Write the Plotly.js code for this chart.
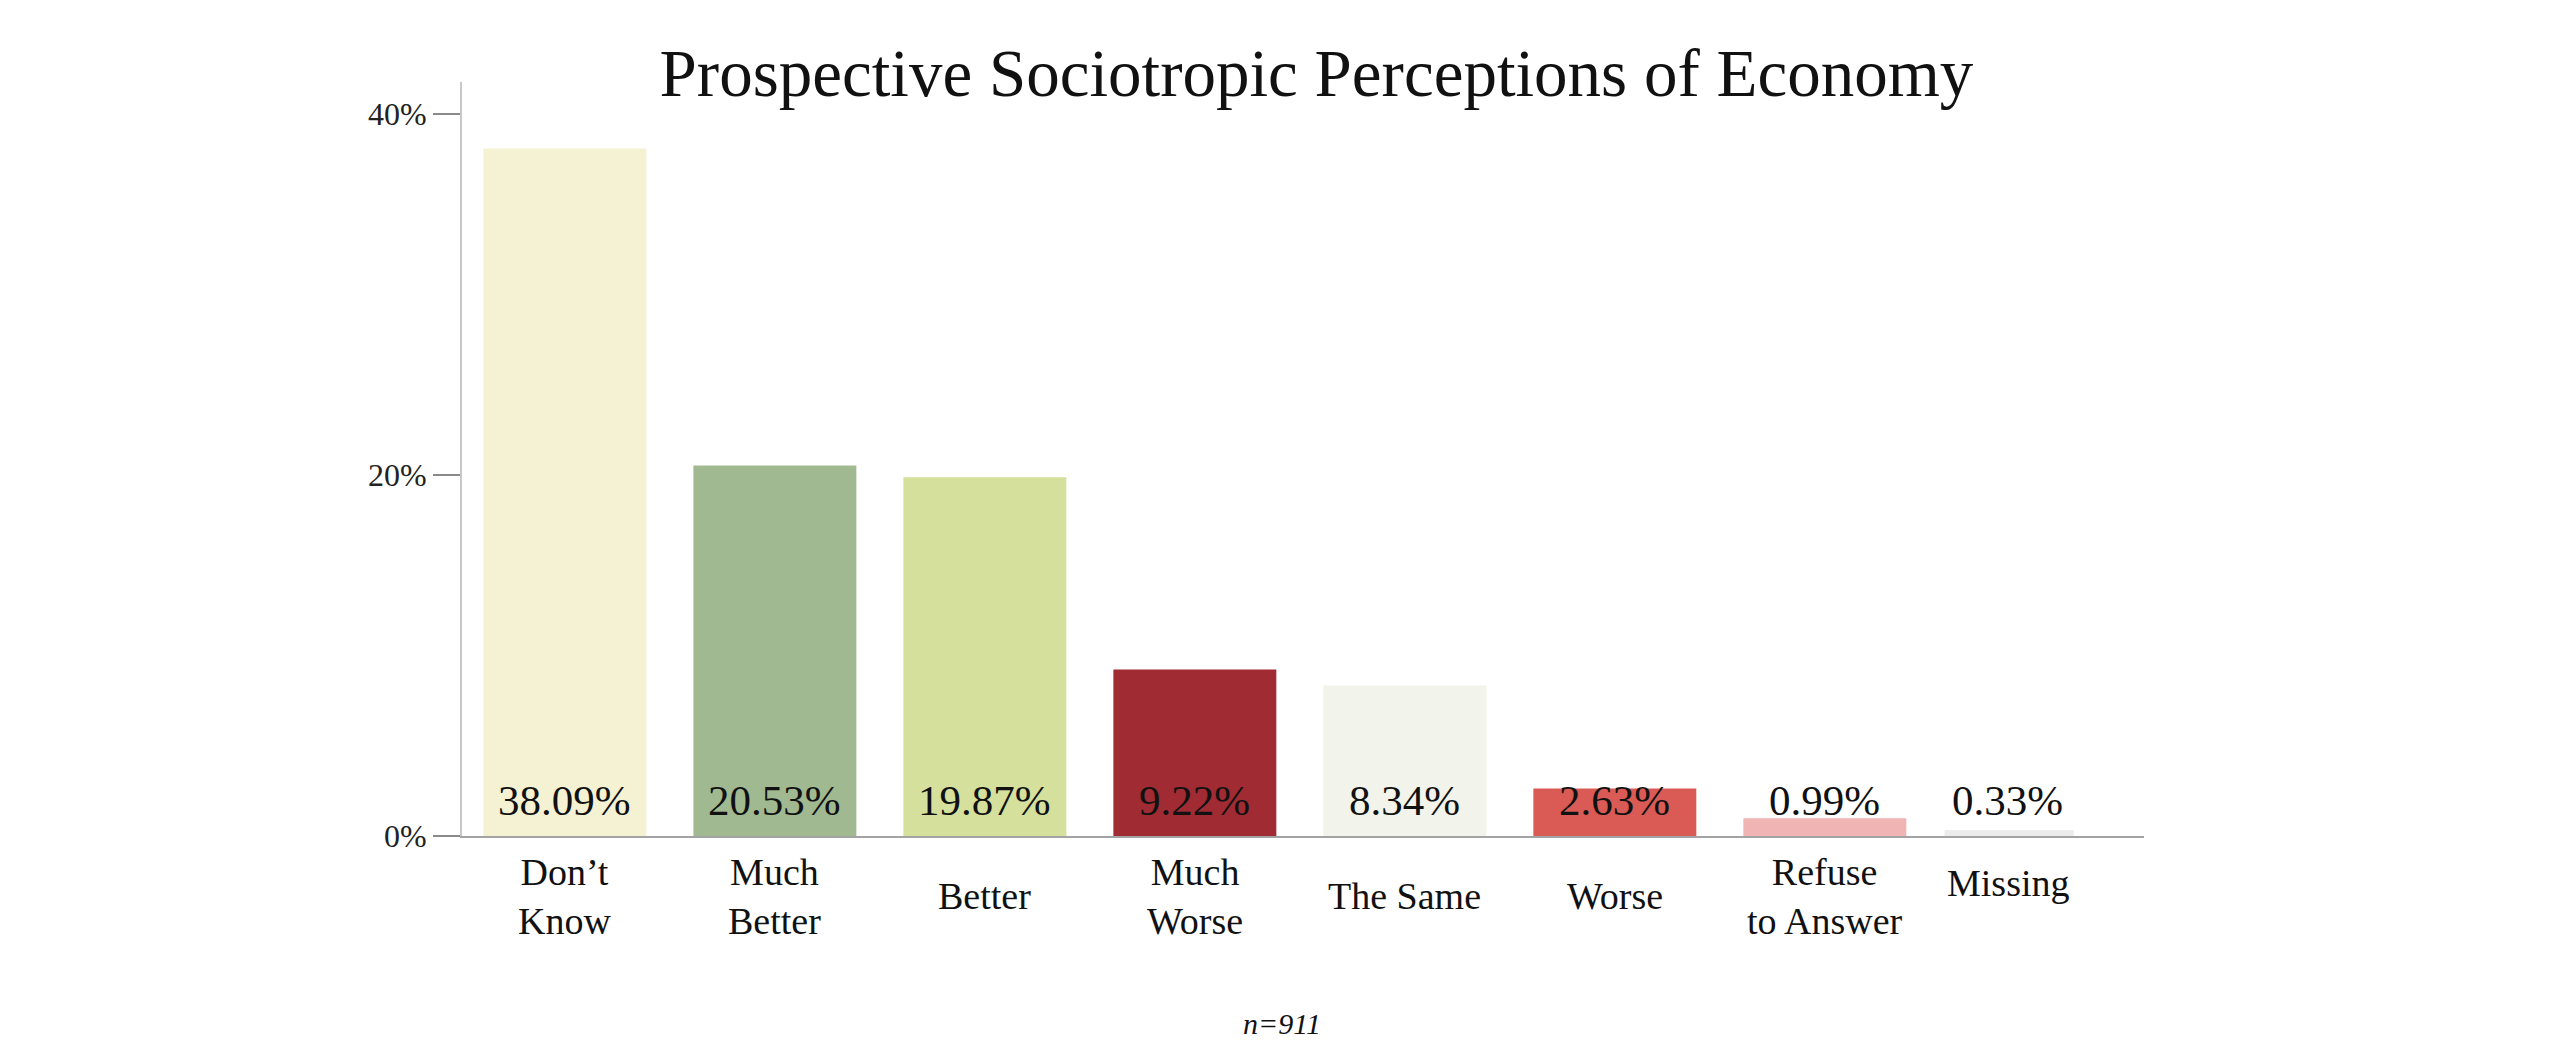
<!DOCTYPE html>
<html>
<head>
<meta charset="utf-8">
<script src="https://cdn.plot.ly/plotly-3.0.1.min.js"></script>
<style>
  html, body { margin: 0; padding: 0; background: #ffffff; }
  #chart { width: 2560px; height: 1061px; }
</style>
</head>
<body>
<div id="chart"></div>
<script>
// ---- data ----
const categories = ["Don't Know", "Much Better", "Better", "Much Worse", "The Same", "Worse", "Refuse to Answer", "Missing"];
const categoryLabels = ["Don’t<br>Know", "Much<br>Better", "Better", "Much<br>Worse", "The Same", "Worse", "Refuse<br>to Answer", "Missing"];
const percentages = [38.09, 20.53, 19.87, 9.22, 8.34, 2.63, 0.99, 0.33];
const yTickValues = [0, 20, 40];
const yTickLabels = ["0%", "20%", "40%"];
const chartTitle = "Prospective Sociotropic Perceptions of Economy";
const sampleNote = "n=911";

// ---- styles ----
const barColors = ["#F5F1D3", "#A0B991", "#D5E09D", "#A02B33", "#F2F3EA", "#DA5B55", "#EFB4B3", "#ECECEC"];
const FONT = "Liberation Serif, Times New Roman, serif";
const lastIdx = categories.length - 1;
const barWidths = categories.map((c, i) => i === lastIdx ? 0.615 : 0.776);
const barOffsets = categories.map((c, i) => i === lastIdx ? -0.43 : -0.388);
const labelShift = categories.map((c, i) => i === lastIdx ? -27 : 0);
const Y_RANGE = [0, 41.77];

const trace = {
  type: 'bar',
  x: categories,
  y: percentages,
  width: barWidths,
  offset: barOffsets,
  marker: { color: barColors, line: { width: 0 } },
  hoverinfo: 'skip',
  showlegend: false
};

const annotations = [];
// value labels near the base of each bar
categories.forEach((c, i) => {
  annotations.push({
    x: c, xref: 'x', y: 0, yref: 'y',
    yanchor: 'middle', xanchor: 'center',
    yshift: 36, xshift: labelShift[i],
    text: percentages[i].toFixed(2) + '%',
    showarrow: false,
    font: { family: FONT, size: 43, color: '#111111' }
  });
});
// category labels under the axis
categories.forEach((c, i) => {
  annotations.push({
    x: c, xref: 'x', y: 0, yref: 'paper',
    yanchor: 'middle', xanchor: 'center',
    yshift: i === lastIdx ? -47 : -60, xshift: labelShift[i],
    text: categoryLabels[i],
    showarrow: false,
    font: { family: FONT, size: 38, color: '#111111' }
  });
});
// sample size note
annotations.push({
  x: 0.4875, xref: 'paper', y: 0, yref: 'paper',
  yanchor: 'middle', xanchor: 'center', yshift: -187,
  text: '<i>' + sampleNote + '</i>',
  showarrow: false,
  font: { family: FONT, size: 30, color: '#111111' }
});

const layout = {
  width: 2560,
  height: 1061,
  margin: { l: 462, r: 416, t: 82, b: 225, pad: 0 },
  paper_bgcolor: '#ffffff',
  plot_bgcolor: '#ffffff',
  title: {
    text: chartTitle,
    font: { family: FONT, size: 67, color: '#111111' },
    xref: 'paper', x: 0.508, xanchor: 'center',
    yref: 'container', y: 1 - 73 / 1061, yanchor: 'middle'
  },
  xaxis: {
    type: 'category',
    range: [-0.49, 7.52],
    showticklabels: false,
    ticks: '',
    showgrid: false,
    zeroline: false,
    showline: true,
    linecolor: '#a3a3a3',
    linewidth: 2,
    fixedrange: true
  },
  yaxis: {
    range: Y_RANGE,
    tickmode: 'array',
    tickvals: yTickValues,
    ticktext: yTickLabels,
    ticks: 'outside',
    ticklen: 27,
    tickwidth: 1.5,
    tickcolor: '#8a8a8a',
    showgrid: false,
    zeroline: false,
    showline: true,
    linecolor: '#c8c8c8',
    linewidth: 2,
    tickfont: { family: FONT, size: 32, color: '#222222' },
    fixedrange: true
  },
  yaxis2: {
    overlaying: 'y',
    anchor: 'x',
    side: 'left',
    range: Y_RANGE,
    tickmode: 'array',
    tickvals: yTickValues,
    ticks: 'inside',
    ticklen: 12,
    tickwidth: 1.5,
    tickcolor: '#8a8a8a',
    showticklabels: false,
    showgrid: false,
    zeroline: false,
    showline: false,
    fixedrange: true
  },
  annotations: annotations,
  hovermode: false
};

Plotly.newPlot('chart', [trace], layout, { displayModeBar: false, staticPlot: true });
</script>
</body>
</html>
